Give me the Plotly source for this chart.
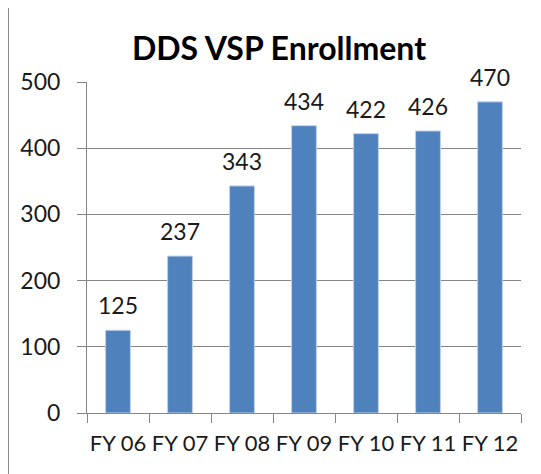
import plotly.graph_objects as go

categories = ["FY 06", "FY 07", "FY 08", "FY 09", "FY 10", "FY 11", "FY 12"]
enrollment = [125, 237, 343, 434, 422, 426, 470]
y_ticks = [0, 100, 200, 300, 400, 500]
title_text = "DDS VSP Enrollment"

FONT = "Lato, 'Open Sans', sans-serif"
FS = 23
# page body has an 8px default margin, so the figure is made 8px smaller
W, H = 533, 466

fig = go.Figure()
fig.add_trace(go.Bar(
    x=categories,
    y=enrollment,
    marker=dict(color="#4F81BD", line=dict(color="#BCD0E8", width=1)),
    hoverinfo="x+y",
))

for c, v in zip(categories, enrollment):
    fig.add_annotation(
        x=c, y=v, text=str(v), showarrow=False,
        yanchor="middle", yshift=25,
        font=dict(family=FONT, size=FS, color="#1a1a1a"),
    )

fig.update_layout(
    width=W, height=H,
    margin=dict(l=79, r=20, t=74, b=61),
    paper_bgcolor="white", plot_bgcolor="white",
    bargap=0.6,
    showlegend=False,
    title=dict(
        text="<b>" + title_text + "</b>",
        x=271 / W, xanchor="center",
        y=1 - 41 / H, yanchor="middle",
        font=dict(family=FONT, size=32, color="black"),
    ),
    font=dict(family=FONT, size=FS, color="#1a1a1a"),
    xaxis=dict(
        type="category",
        automargin=False,
        tickangle=0,
        showline=True, linecolor="#868686", linewidth=1,
        ticks="outside", tickson="boundaries", ticklen=9, tickcolor="#868686",
        showgrid=False,
        tickfont=dict(family=FONT, size=FS - 1, color="#1a1a1a"),
        ticklabelstandoff=11,
    ),
    yaxis=dict(
        automargin=False,
        range=[0, 500],
        tickvals=y_ticks,
        showline=True, linecolor="#868686", linewidth=1,
        ticks="outside", ticklen=9, tickcolor="#868686",
        showgrid=True, gridcolor="#868686", gridwidth=1,
        zeroline=False,
        tickfont=dict(family=FONT, size=FS, color="#1a1a1a"),
        ticklabelstandoff=12,
    ),
    shapes=[
        dict(type="line", xref="paper", yref="paper",
             x0=-0.182, x1=-0.182, y0=1.229, y1=-0.25,
             line=dict(color="#8C8C8C", width=2)),
        dict(type="line", xref="paper", yref="paper",
             x0=-0.182, x1=1.1, y0=1.229, y1=1.229,
             line=dict(color="#8C8C8C", width=2)),
    ],
)

fig.write_html("out.html")
